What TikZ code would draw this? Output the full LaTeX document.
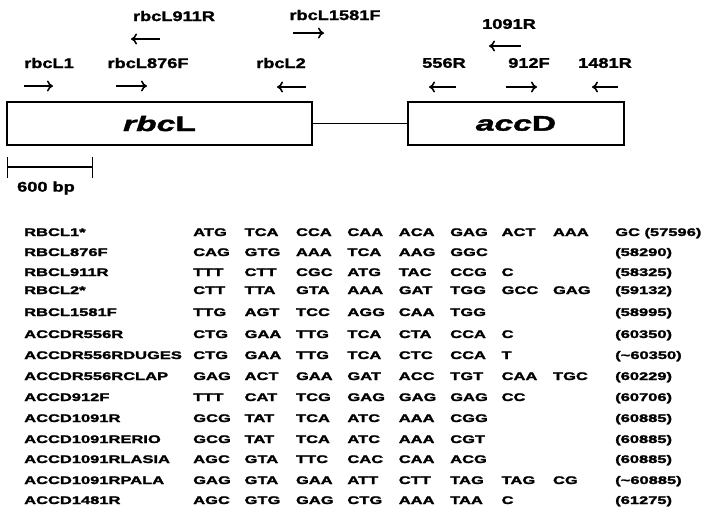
\documentclass[tikz,border=0pt]{standalone}
\usepackage{fontspec}
\setmainfont{Liberation Sans}
\newfontfamily\labfont[FakeStretch=1.3,FakeBold=1.5]{Liberation Sans Bold}
\newfontfamily\tabfont[FakeStretch=1.5,FakeBold=2]{Liberation Sans Bold}
\newfontfamily\genefont[FakeStretch=1.6,FakeBold=2,ItalicFont={Liberation Sans Bold Italic}]{Liberation Sans Bold}
\usetikzlibrary{arrows.meta, positioning}

\begin{document}
\begin{tikzpicture}[
        x=1pt, y=-1pt,
        lab/.style={inner sep=0pt, font=\labfont\fontsize{14}{16}\selectfont},
        gene/.style={rectangle, draw, line width=1.3pt, minimum height=43pt, inner sep=0pt, font=\genefont\fontsize{21}{24}\selectfont},
        cell/.style={anchor=base west, inner sep=0pt, font=\tabfont\fontsize{11}{13}\selectfont},
        primer/.style={-{To[length=6pt,width=11pt]}, line width=1.6pt},
        link/.style={line width=1.3pt}
    ]
    \useasboundingbox (0,0) rectangle (704,512);

    % genes
    \node[gene, minimum width=305pt] (rbcl) at (159.5,123.5) {\itshape rbc\upshape L};
    \node[gene, minimum width=216pt] (accd) at (516,123.5) {\itshape acc\upshape D\hspace{18pt}};
    \draw[link] (rbcl) -- (accd);

    % primers
    \node[lab] (l1) at (49,63) {rbcL1};
    \node[lab] (l876) at (148,63) {rbcL876F};
    \node[lab] (l911) at (174,16) {rbcL911R};
    \node[lab] (l1581) at (335,15) {rbcL1581F};
    \node[lab] (l2) at (281,63) {rbcL2};
    \node[lab] (a556) at (444,63) {556R};
    \node[lab] (a1091) at (509,24) {1091R};
    \node[lab] (a912) at (529,63) {912F};
    \node[lab] (a1481) at (605,63) {1481R};

    \coordinate (l1s) at (24,86);     \coordinate (l1e) at (53,86);
    \coordinate (l876s) at (116,86);  \coordinate (l876e) at (147,86);
    \coordinate (l911s) at (160,39);  \coordinate (l911e) at (131,39);
    \coordinate (l1581s) at (293,33); \coordinate (l1581e) at (324,33);
    \coordinate (l2s) at (306,87);    \coordinate (l2e) at (277,87);
    \coordinate (a556s) at (456,87);  \coordinate (a556e) at (429,87);
    \coordinate (a1091s) at (521,46); \coordinate (a1091e) at (489,46);
    \coordinate (a912s) at (506,87);  \coordinate (a912e) at (537,87);
    \coordinate (a1481s) at (618,87); \coordinate (a1481e) at (592,87);

    \foreach \p in {l1,l876,l911,l1581,l2,a556,a1091,a912,a1481}
        \draw[primer] (\p s) -- (\p e);

    % scale bar
    \coordinate (sbl) at (7,167);
    \coordinate (sbr) at (93,167);
    \draw[link, {Bar[width=21pt]}-{Bar[width=21pt]}] (sbl) -- (sbr);
    \node[lab] (sb) at (46,188) {600 bp};

    % primer table
    \foreach \nm/\yy/\seq/\pos [count=\row] in {
        RBCL1*/236/{ATG,TCA,CCA,CAA,ACA,GAG,ACT,AAA}/{GC (57596)},
        RBCL876F/256/{CAG,GTG,AAA,TCA,AAG,GGC}/{(58290)},
        RBCL911R/276/{TTT,CTT,CGC,ATG,TAC,CCG,C}/{(58325)},
        RBCL2*/294/{CTT,TTA,GTA,AAA,GAT,TGG,GCC,GAG}/{(59132)},
        RBCL1581F/316/{TTG,AGT,TCC,AGG,CAA,TGG}/{(58995)},
        ACCDR556R/338/{CTG,GAA,TTG,TCA,CTA,CCA,C}/{(60350)},
        ACCDR556RDUGES/359/{CTG,GAA,TTG,TCA,CTC,CCA,T}/{(\textasciitilde60350)},
        ACCDR556RCLAP/380/{GAG,ACT,GAA,GAT,ACC,TGT,CAA,TGC}/{(60229)},
        ACCD912F/401/{TTT,CAT,TCG,GAG,GAG,GAG,CC}/{(60706)},
        ACCD1091R/422/{GCG,TAT,TCA,ATC,AAA,CGG}/{(60885)},
        ACCD1091RERIO/443/{GCG,TAT,TCA,ATC,AAA,CGT}/{(60885)},
        ACCD1091RLASIA/463/{AGC,GTA,TTC,CAC,CAA,ACG}/{(60885)},
        ACCD1091RPALA/484/{GAG,GTA,GAA,ATT,CTT,TAG,TAG,CG}/{(\textasciitilde60885)},
        ACCD1481R/504/{AGC,GTG,GAG,CTG,AAA,TAA,C}/{(61275)}}{
        \node[cell] (n\row) at (24,\yy) {\nm};
        \foreach \cdn [count=\col] in \seq
            \node[cell] (c\row-\col) at ({193+51.4*(\col-1)},\yy) {\cdn};
        \node[cell] (p\row) at (615,\yy) {\pos};
    }

\end{tikzpicture}
\end{document}
